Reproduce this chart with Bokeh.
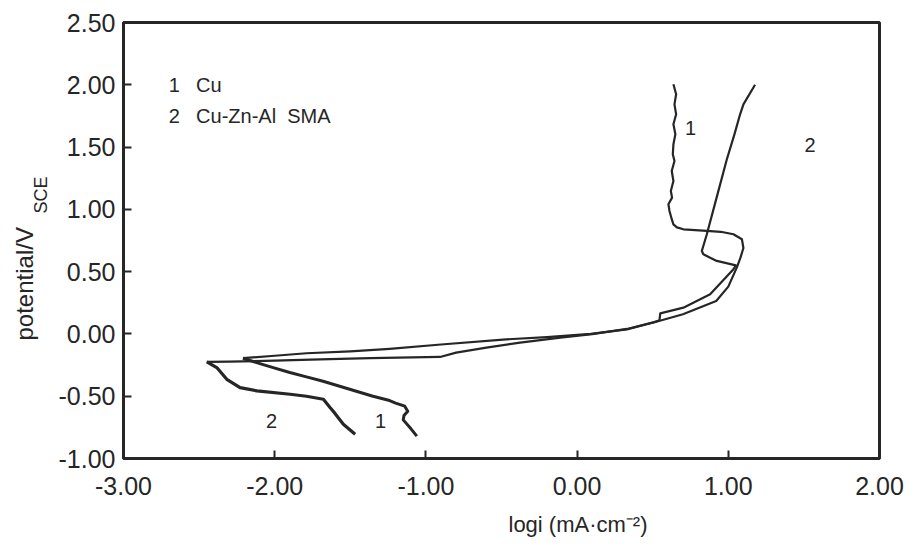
from bokeh.plotting import figure
from bokeh.models import Label, PrintfTickFormatter, FixedTicker, Range1d, Title
from bokeh.embed import file_html
from bokeh.resources import INLINE

# Polarization curve of pure Cu (curve 1): cathodic branch from the bottom up to
# the corrosion potential, then the anodic branch up to 2.0 V
cu_logi = [-1.06, -1.10, -1.15, -1.145, -1.12, -1.14, -1.20, -1.24, -1.35, -1.46,
           -1.57, -1.68, -1.79, -1.90, -2.01, -2.12, -2.21,
           -2.00, -1.79, -1.50, -1.24, -0.90, -0.49, -0.20, 0.09, 0.33, 0.53,
           0.70, 0.92, 1.00, 1.056, 1.08, 1.10, 1.09, 1.034, 0.95, 0.858, 0.703,
           0.66, 0.637, 0.626, 0.611, 0.604, 0.628, 0.620, 0.637, 0.626, 0.644,
           0.633, 0.637, 0.650, 0.637, 0.655, 0.644, 0.655, 0.637]
cu_potential = [-0.82, -0.76, -0.69, -0.655, -0.62, -0.58, -0.555, -0.535, -0.50, -0.46,
                -0.42, -0.38, -0.345, -0.31, -0.27, -0.23, -0.195,
                -0.175, -0.155, -0.14, -0.12, -0.085, -0.045, -0.025, 0.0, 0.037, 0.10,
                0.158, 0.265, 0.38, 0.532, 0.61, 0.69, 0.76, 0.80, 0.82, 0.827, 0.84,
                0.855, 0.88, 0.921, 0.987, 1.041, 1.094, 1.148, 1.228, 1.308, 1.388,
                1.442, 1.522, 1.603, 1.683, 1.763, 1.843, 1.924, 2.004]
CU_CATHODIC = 17  # number of points on the cathodic branch

# Polarization curve of the Cu-Zn-Al shape memory alloy (curve 2)
sma_logi = [-1.468, -1.546, -1.60, -1.634, -1.678, -1.79, -1.898, -2.118, -2.229,
            -2.317, -2.383, -2.449,
            -2.30, -2.00, -1.70, -1.369, -0.906, -0.80, -0.60, -0.377, -0.11, 0.10,
            0.33, 0.51, 0.545, 0.55, 0.703, 0.88, 1.034, 1.05, 0.924, 0.88, 0.835,
            0.825, 0.858, 0.924, 0.99, 1.04, 1.078, 1.10, 1.177]
sma_potential = [-0.805, -0.725, -0.64, -0.591, -0.524, -0.50, -0.484, -0.457, -0.431,
                 -0.364, -0.27, -0.225,
                 -0.222, -0.215, -0.205, -0.195, -0.185, -0.15, -0.11, -0.07, -0.03,
                 -0.002, 0.04, 0.095, 0.11, 0.165, 0.211, 0.318, 0.519, 0.55, 0.586,
                 0.612, 0.64, 0.666, 0.80, 1.10, 1.40, 1.60, 1.763, 1.843, 2.0]
SMA_CATHODIC = 12

x_ticks = [-3.0, -2.0, -1.0, 0.0, 1.0, 2.0]
y_ticks = [-1.0, -0.5, 0.0, 0.5, 1.0, 1.5, 2.0, 2.5]

FONT = "Liberation Sans"
INK = "#262626"
NBSP2 = "\u00a0\u00a0"

p = figure(width=909, height=550,
           x_range=Range1d(-3.0, 2.0), y_range=Range1d(-1.0, 2.5),
           output_backend="svg", toolbar_location=None,
           min_border_left=123, min_border_right=30,
           min_border_top=22, min_border_bottom=92)

p.background_fill_color = "white"
p.border_fill_color = "white"
p.grid.visible = False
p.outline_line_color = INK
p.outline_line_width = 3

for ax in (p.xaxis[0], p.yaxis[0]):
    ax.axis_line_color = INK
    ax.axis_line_width = 3
    ax.major_tick_line_color = INK
    ax.major_tick_line_width = 2
    ax.major_tick_in = 8
    ax.major_tick_out = 0
    ax.minor_tick_line_color = None
    ax.formatter = PrintfTickFormatter(format="%.2f")
    ax.major_label_text_font = FONT
    ax.major_label_text_font_size = "25px"
    ax.major_label_text_color = INK

p.xaxis.ticker = FixedTicker(ticks=x_ticks)
p.yaxis.ticker = FixedTicker(ticks=y_ticks)
p.xaxis.major_label_standoff = 18
p.yaxis.major_label_standoff = 8


def side_title(text, size, side, offset, standoff, valign):
    p.add_layout(Title(text=text, align="left", offset=offset, standoff=standoff,
                       vertical_align=valign, text_font=FONT, text_font_size=size,
                       text_font_style="normal", text_color=INK), side)

# x-axis title
side_title("logi (mA·cm⁻²)", "22px", "below", 385, 24, "bottom")

# y-axis title: subscript column next to the tick labels, main text outside it
side_title("SCE", "18px", "left", 245, 8, "middle")
side_title("potential/V", "24px", "left", 118, -28, "top")

# Curves: cathodic branches are traced with a heavier pen
p.line(cu_logi[:CU_CATHODIC], cu_potential[:CU_CATHODIC],
       line_color=INK, line_width=3.0, line_join="round")
p.line(cu_logi[CU_CATHODIC - 1:], cu_potential[CU_CATHODIC - 1:],
       line_color=INK, line_width=2.2, line_join="round")
p.line(sma_logi[:SMA_CATHODIC], sma_potential[:SMA_CATHODIC],
       line_color=INK, line_width=3.2, line_join="round")
p.line(sma_logi[SMA_CATHODIC - 1:], sma_potential[SMA_CATHODIC - 1:],
       line_color=INK, line_width=2.2, line_join="round")


def add_text(x, y, text, size="20px", align="center"):
    p.add_layout(Label(x=x, y=y, text=text, text_font=FONT, text_font_size=size,
                       text_color=INK, text_align=align, text_baseline="middle"))

# Legend block
add_text(-2.70, 2.0, "1", align="left")
add_text(-2.52, 2.0, "Cu", align="left")
add_text(-2.70, 1.75, "2", align="left")
add_text(-2.52, 1.75, "Cu-Zn-Al" + NBSP2 + "SMA", align="left")

# Curve numbers
add_text(0.75, 1.65, "1")
add_text(1.54, 1.52, "2")
add_text(-2.02, -0.70, "2")
add_text(-1.30, -0.70, "1")

open("out.html", "w").write(file_html(p, INLINE))
